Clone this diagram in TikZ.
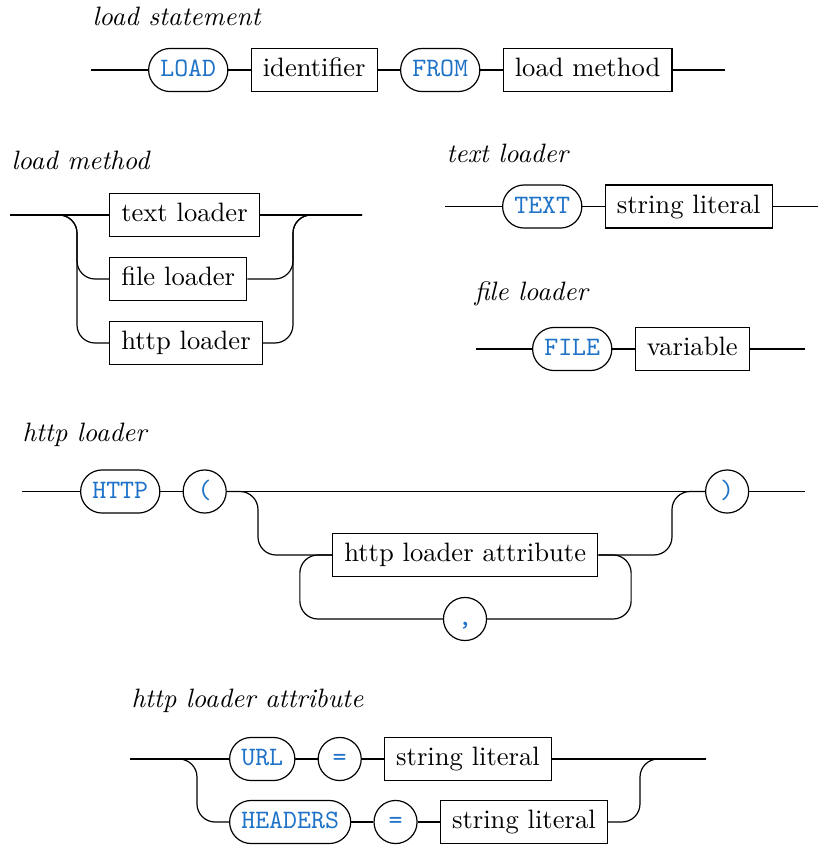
\documentclass[tikz,border=0pt]{standalone}
\usetikzlibrary{positioning,calc}
\definecolor{kw}{RGB}{30,115,200}
\begin{document}
\begin{tikzpicture}[x=0.376pt,y=-0.376pt,
  rail/.style={line width=0.45pt, rounded corners=6.8pt},
  nterm/.style={draw, line width=0.45pt, minimum height=16.2pt, inner xsep=4.4pt,
    inner ysep=0pt, text height=7pt, text depth=2pt},
  term/.style={nterm, rounded corners=8.1pt, text=kw, font=\ttfamily},
  tchar/.style={term, minimum width=16.2pt, inner xsep=0pt},
  title/.style={font=\itshape, anchor=base west, inner sep=0pt},
  node distance=8.3pt]
\useasboundingbox (0,0) rectangle (819,845);

% ---------- load statement ----------
\node[title] (ls-title) at (92,25) {load statement};
\coordinate (ls-in) at (91,70);
\coordinate (ls-out) at (725,70);
\node[term, anchor=west] (ls-load) at (148,70) {LOAD};
\node[nterm, right=of ls-load] (ls-id) {identifier};
\node[term, right=of ls-id] (ls-from) {FROM};
\node[nterm, right=of ls-from] (ls-method) {load method};
\draw[rail] (ls-in) -- (ls-load.west);
\draw[rail] (ls-load.east) -- (ls-id.west);
\draw[rail] (ls-id.east) -- (ls-from.west);
\draw[rail] (ls-from.east) -- (ls-method.west);
\draw[rail] (ls-method.east) -- (ls-out);

% ---------- load method ----------
\node[title] (lm-title) at (11,169) {load method};
\coordinate (lm-in) at (10,215);
\coordinate (lm-out) at (362,215);
\node[nterm, anchor=west] (lm-text) at (109,215) {text loader};
\node[nterm, anchor=west] (lm-file) at (109,279) {file loader};
\node[nterm, anchor=west] (lm-http) at (109,343) {http loader};
\draw[rail] (lm-in) -- (lm-text.west);
\draw[rail] (lm-text.east) -- (lm-out);
\draw[rail] (lm-in) -| ($(lm-http.west)+(-32,0)$) -- (lm-http.west);
\draw[rail] (lm-in) -| ($(lm-file.west)+(-32,0)$) -- (lm-file.west);
\draw[rail] (lm-http.east) -| ($(lm-out)+(-69,0)$) -- (lm-out);
\draw[rail] (lm-file.east) -| ($(lm-out)+(-69,0)$) -- (lm-out);

% ---------- text loader ----------
\node[title] (tl-title) at (446,162) {text loader};
\coordinate (tl-in) at (445,206.5);
\coordinate (tl-out) at (818,206.5);
\node[term, anchor=west] (tl-text) at (502,206.5) {TEXT};
\node[nterm, right=of tl-text] (tl-str) {string literal};
\draw[rail] (tl-in) -- (tl-text.west);
\draw[rail] (tl-text.east) -- (tl-str.west);
\draw[rail] (tl-str.east) -- (tl-out);

% ---------- file loader ----------
\node[title] (fl-title) at (474,300) {file loader};
\coordinate (fl-in) at (476,349);
\coordinate (fl-out) at (805,349);
\node[term, anchor=west] (fl-file) at (532,349) {FILE};
\node[nterm, right=of fl-file] (fl-var) {variable};
\draw[rail] (fl-in) -- (fl-file.west);
\draw[rail] (fl-file.east) -- (fl-var.west);
\draw[rail] (fl-var.east) -- (fl-out);

% ---------- http loader ----------
\node[title] (hl-title) at (22,441) {http loader};
\coordinate (hl-in) at (22,491.5);
\coordinate (hl-out) at (805,491.5);
\node[term, anchor=west] (hl-http) at (80,491.5) {HTTP};
\node[tchar, right=of hl-http] (hl-lp) {(};
\node[tchar, anchor=west] (hl-rp) at (705,491.5) {)};
\node[nterm, anchor=west] (hl-attr) at (332,555) {http loader attribute};
\node[tchar] (hl-comma) at (465,619) {,};
\draw[rail] (hl-in) -- (hl-http.west);
\draw[rail] (hl-http.east) -- (hl-lp.west);
\draw[rail] (hl-lp.east) -- (hl-rp.west);
\draw[rail] (hl-rp.east) -- (hl-out);
\draw[rail] (hl-lp.east) -| ($(hl-attr.west)+(-74,0)$) -- (hl-attr.west);
\draw[rail] (hl-attr.east) -| ($(hl-rp.west)+(-33,0)$) -- (hl-rp.west);
\draw[rail] (hl-attr.west) -| ($(hl-comma.west)+(-143,0)$) -- (hl-comma.west);
\draw[rail] (hl-attr.east) -| ($(hl-comma.east)+(144,0)$) -- (hl-comma.east);

% ---------- http loader attribute ----------
\node[title] (ha-title) at (131,707) {http loader attribute};
\coordinate (ha-in) at (130,759);
\coordinate (ha-out) at (706,759);
\node[term, anchor=west] (ha-url) at (229,759) {URL};
\node[tchar, right=of ha-url] (ha-eq1) {=};
\node[nterm, right=of ha-eq1] (ha-str1) {string literal};
\node[term, anchor=west] (ha-headers) at (229,822) {HEADERS};
\node[tchar, right=of ha-headers] (ha-eq2) {=};
\node[nterm, right=of ha-eq2] (ha-str2) {string literal};
\draw[rail] (ha-in) -- (ha-url.west);
\draw[rail] (ha-url.east) -- (ha-eq1.west);
\draw[rail] (ha-eq1.east) -- (ha-str1.west);
\draw[rail] (ha-str1.east) -- (ha-out);
\draw[rail] (ha-in) -| ($(ha-headers.west)+(-32,0)$) -- (ha-headers.west);
\draw[rail] (ha-headers.east) -- (ha-eq2.west);
\draw[rail] (ha-eq2.east) -- (ha-str2.west);
\draw[rail] (ha-str2.east) -| ($(ha-out)+(-66,0)$) -- (ha-out);
\end{tikzpicture}
\end{document}
